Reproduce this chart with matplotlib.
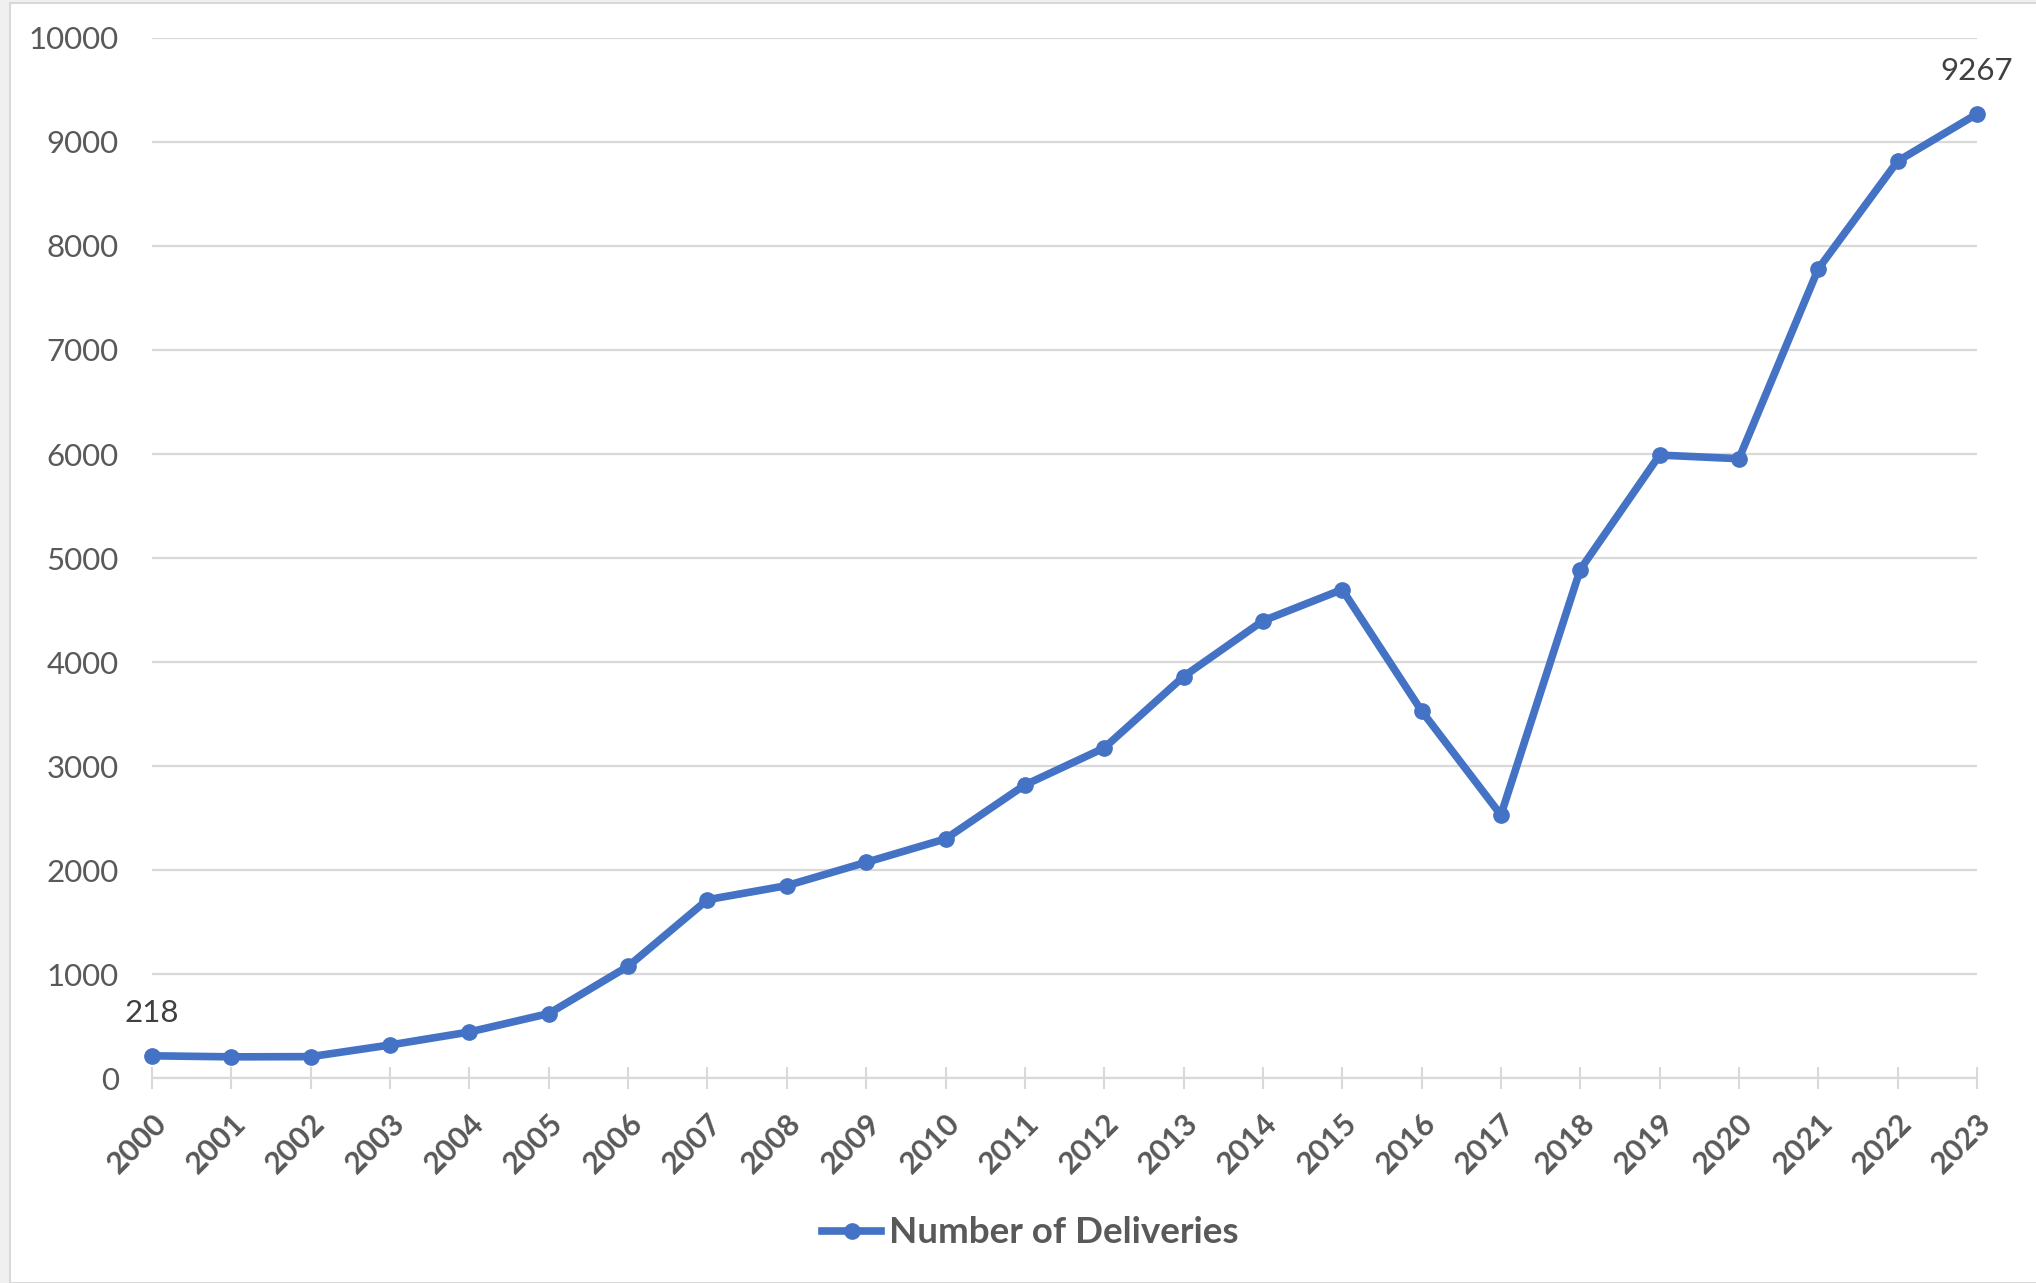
import matplotlib
matplotlib.use('Agg')
import matplotlib.pyplot as plt
from matplotlib.patches import Rectangle

plt.rcParams['font.family'] = ['Lato', 'DejaVu Sans']

years = [str(y) for y in range(2000, 2024)]
deliveries = [218, 208, 210, 322, 447, 624, 1078, 1718, 1853, 2077, 2302, 2820,
              3176, 3862, 4397, 4698, 3532, 2532, 4890, 5990, 5955, 7779, 8814, 9267]
labelled = [0, len(years) - 1]   # first and last points carry a value label

line_color = '#4472C4'
grid_color = '#D9D9D9'
text_color = '#595959'

fig = plt.figure(figsize=(20.36, 12.83), dpi=100)
fig.patch.set_facecolor('#F0F0F0')
# white chart area with a thin border, kept behind the axes
fig.patches.append(Rectangle((10 / 2036, 0), 1, 1 - 3 / 1283, transform=fig.transFigure,
                             facecolor='white', edgecolor=grid_color, linewidth=1.5, zorder=-1))

ax = fig.add_axes([0.0747, 0.1594, 0.8963, 0.8112])
ax.set_zorder(1)
ax.set_facecolor('white')
x = list(range(len(years)))
ax.plot(x, deliveries, '-o', color=line_color, linewidth=5.5, markersize=11,
        label='Number of Deliveries', zorder=3, clip_on=False)

for i in labelled:
    ax.annotate(str(deliveries[i]), (x[i], deliveries[i]), xytext=(0, 21),
                textcoords='offset points', ha='center', va='bottom',
                fontsize=22.5, color='#404040')

ax.set_xlim(0, len(years) - 1)
ax.set_ylim(0, 10000)
ax.set_yticks(range(0, 10001, 1000))
ax.yaxis.grid(True, color=grid_color, linewidth=1.6)
ax.set_axisbelow(True)
ax.tick_params(axis='y', length=0, pad=24, labelsize=22.5, labelcolor=text_color)

ax.set_xticks(x)
ax.set_xticklabels(years, rotation=45, ha='right', va='top', rotation_mode='anchor',
                   fontsize=22, fontweight='bold', color=text_color)
ax.tick_params(axis='x', direction='inout', length=16, width=1.5, color=grid_color, pad=14)

for side in ['top', 'right', 'left']:
    ax.spines[side].set_visible(False)
ax.spines['bottom'].set_color(grid_color)
ax.spines['bottom'].set_linewidth(1.6)

leg = fig.legend(loc='center', bbox_to_anchor=(0.506, 0.039), frameon=False,
                 handlelength=1.6, handletextpad=0.2,
                 prop={'size': 26.5, 'weight': 'bold'})
for t in leg.get_texts():
    t.set_color(text_color)

plt.savefig('out.png', dpi=100, facecolor=fig.get_facecolor())
plt.close()
